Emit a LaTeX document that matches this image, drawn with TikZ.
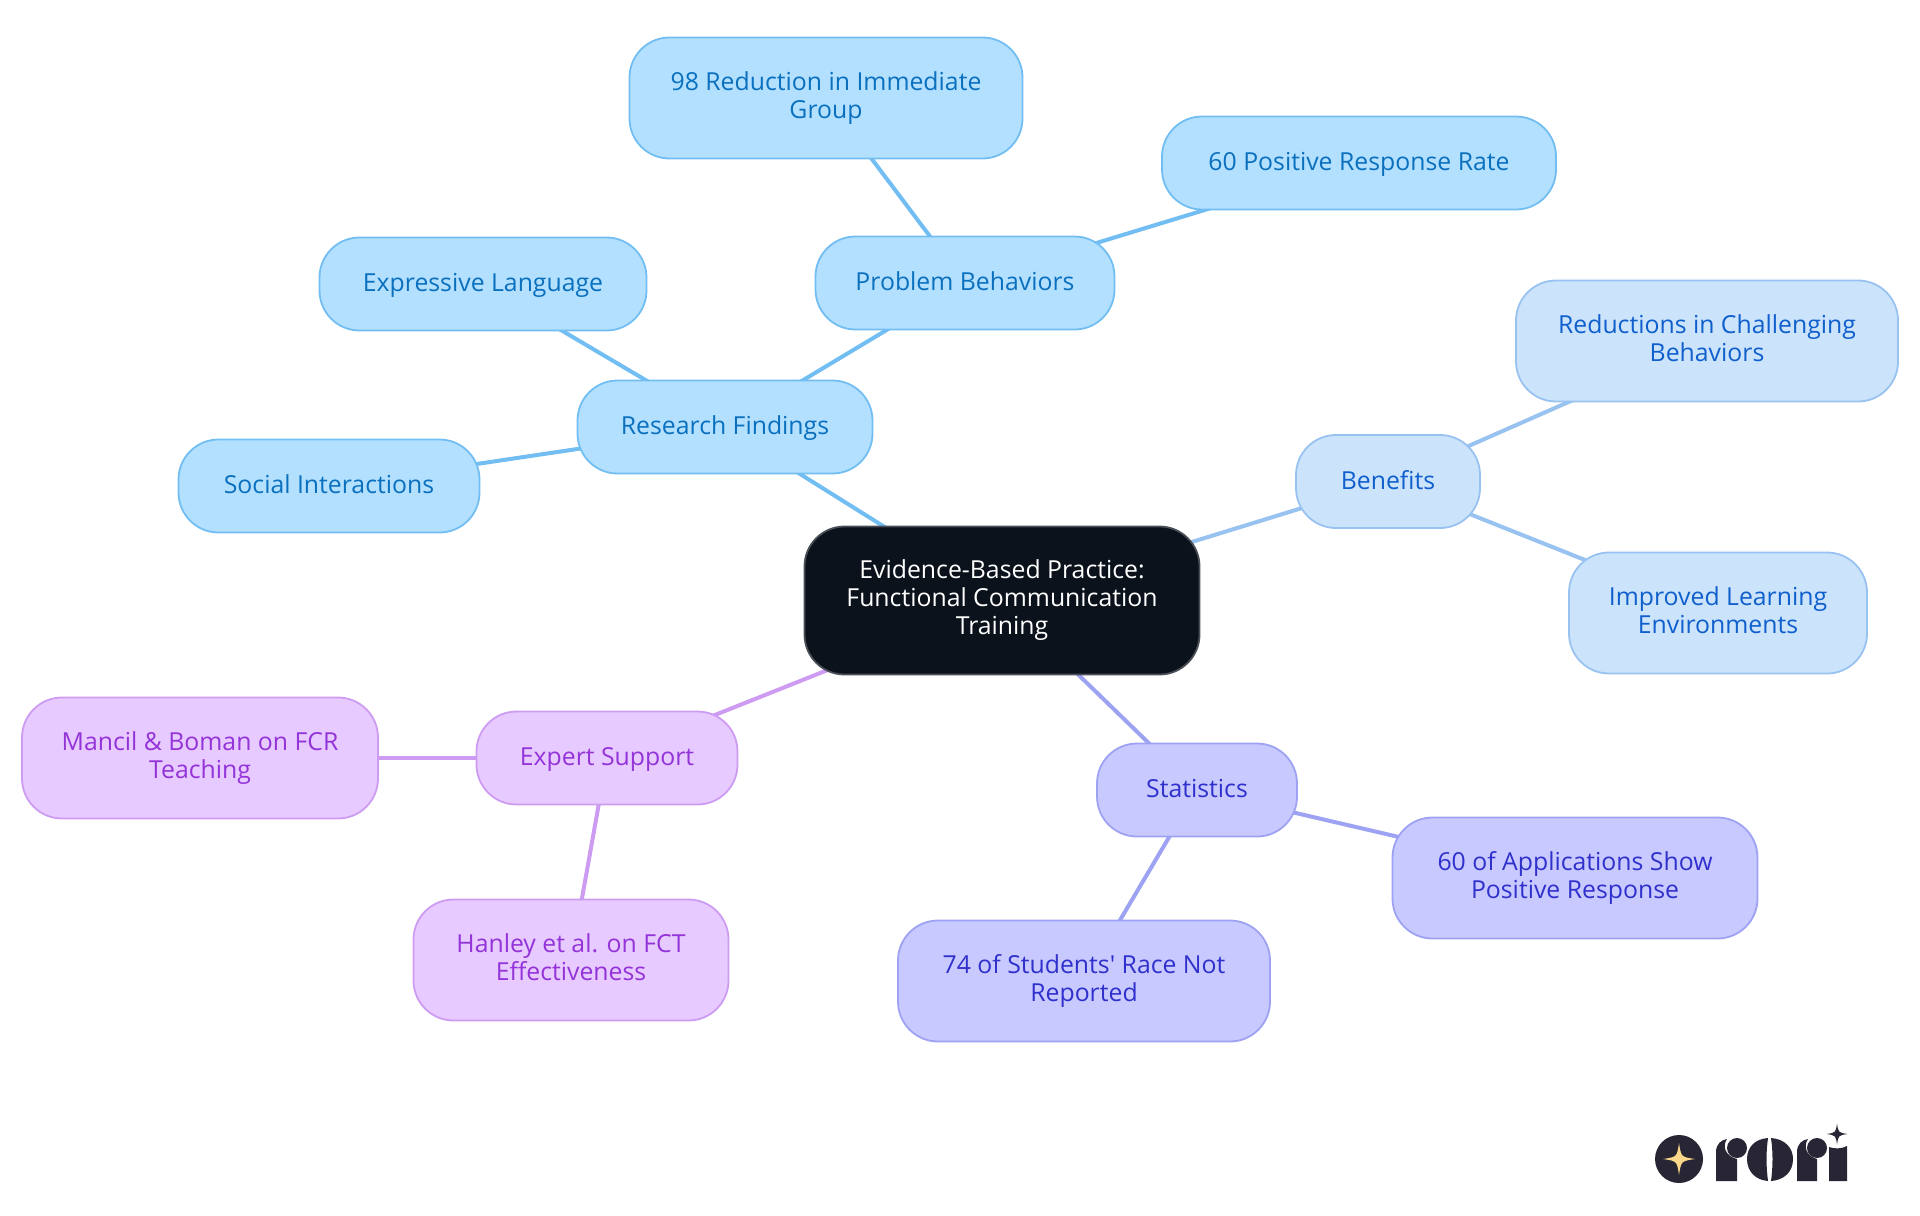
\documentclass[tikz,border=0pt]{standalone}
\usepackage{fontspec}
\setmainfont{Open Sans}[Ligatures=TeXOff]
\usetikzlibrary{backgrounds}
\definecolor{kernbg}{HTML}{0B121B}
\definecolor{kernrand}{HTML}{4A4F57}
\definecolor{blaubg}{HTML}{B3E0FF}
\definecolor{blaurand}{HTML}{72BEF2}
\definecolor{blautext}{HTML}{0A70BE}
\definecolor{hellbg}{HTML}{CCE3FC}
\definecolor{hellrand}{HTML}{98C2F0}
\definecolor{helltext}{HTML}{0F5FCC}
\definecolor{indigobg}{HTML}{C8CAFF}
\definecolor{indigorand}{HTML}{9EA2F2}
\definecolor{indigotext}{HTML}{3030CC}
\definecolor{lilabg}{HTML}{E7CAFF}
\definecolor{lilarand}{HTML}{CD9CF2}
\definecolor{lilatext}{HTML}{9333D8}
\definecolor{logodunkel}{HTML}{282635}
\definecolor{logostern}{HTML}{FBD78A}
\newcommand{\zeilenstrut}{\rule[-3.15pt]{0pt}{14pt}}
\tikzset{
  mapknoten/.style={rectangle,rounded corners=20pt,inner sep=0pt,line width=0.9pt,align=center,
    font=\fontsize{12.4}{14}\selectfont,minimum height=46.5pt,
    execute at begin node=\zeilenstrut,execute at end node=\zeilenstrut},
  kern/.style={mapknoten,fill=kernbg,draw=kernrand,text=white,minimum height=74pt,
    execute at begin node={\vspace*{1.2pt}\zeilenstrut}},
  research/.style={mapknoten,fill=blaubg,draw=blaurand,text=blautext},
  benefit/.style={mapknoten,fill=hellbg,draw=hellrand,text=helltext},
  statistik/.style={mapknoten,fill=indigobg,draw=indigorand,text=indigotext},
  experte/.style={mapknoten,fill=lilabg,draw=lilarand,text=lilatext},
  zweizeilig/.style={minimum height=60.5pt,execute at begin node={\vspace*{2.2pt}\zeilenstrut}},
  ast/.style={line width=2pt}
}
\newcommand{\stern}[4]{\fill[#4] (#1,#2-#3) .. controls (#1+0.13*#3,#2-0.13*#3) .. (#1+#3,#2)
  .. controls (#1+0.13*#3,#2+0.13*#3) .. (#1,#2+#3)
  .. controls (#1-0.13*#3,#2+0.13*#3) .. (#1-#3,#2)
  .. controls (#1-0.13*#3,#2-0.13*#3) .. cycle;}
\begin{document}
\begin{tikzpicture}[x=0.5pt,y=-0.5pt]
  \useasboundingbox (0,0) rectangle (1920,1215);

  \node[kern,minimum width=197.5pt] (kernthema) at (1002,600.5)
    {Evidence-Based Practice:\\Functional Communication\\Training};

  \node[research,minimum width=147.5pt] (findings) at (725,427) {Research Findings};
  \node[research,minimum width=149.5pt] (behaviors) at (965,283) {Problem Behaviors};
  \node[research,zweizeilig,minimum width=196.5pt] (reduction) at (826,98) {98 Reduction in Immediate\\Group};
  \node[research,minimum width=197pt] (response) at (1359,163) {60 Positive Response Rate};
  \node[research,minimum width=163.5pt] (language) at (483,284) {Expressive Language};
  \node[research,minimum width=150.5pt] (social) at (329,486) {Social Interactions};

  \node[benefit,minimum width=92pt] (benefits) at (1388,481.5) {Benefits};
  \node[benefit,zweizeilig,minimum width=191pt] (challenging) at (1707,341) {Reductions in Challenging\\Behaviors};
  \node[benefit,zweizeilig,minimum width=149pt] (learning) at (1718,613) {Improved Learning\\Environments};

  \node[statistik,minimum width=100pt] (statistics) at (1197,790) {Statistics};
  \node[statistik,zweizeilig,minimum width=182.5pt] (applications) at (1575,878) {60 of Applications Show\\Positive Response};
  \node[statistik,zweizeilig,minimum width=186pt] (race) at (1084,981) {74 of Students' Race Not\\Reported};

  \node[experte,minimum width=130.5pt] (expert) at (607,758) {Expert Support};
  \node[experte,zweizeilig,minimum width=178pt] (mancil) at (200,758) {Mancil \& Boman on FCR\\Teaching};
  \node[experte,zweizeilig,minimum width=157.5pt] (hanley) at (571,960) {Hanley et al. on FCT\\Effectiveness};

  \begin{scope}[on background layer]
    \draw[ast,draw=blaurand] (kernthema.center) -- (findings.center);
    \draw[ast,draw=blaurand] (findings.center) -- (behaviors.center);
    \draw[ast,draw=blaurand] (behaviors.center) -- (reduction.center);
    \draw[ast,draw=blaurand] (behaviors.center) -- (response.center);
    \draw[ast,draw=blaurand] (findings.center) -- (language.center);
    \draw[ast,draw=blaurand] (findings.center) -- (social.center);
    \draw[ast,draw=hellrand] (kernthema.center) -- (benefits.center);
    \draw[ast,draw=hellrand] (benefits.center) -- (challenging.center);
    \draw[ast,draw=hellrand] (benefits.center) -- (learning.center);
    \draw[ast,draw=indigorand] (kernthema.center) -- (statistics.center);
    \draw[ast,draw=indigorand] (statistics.center) -- (applications.center);
    \draw[ast,draw=indigorand] (statistics.center) -- (race.center);
    \draw[ast,draw=lilarand] (kernthema.center) -- (expert.center);
    \draw[ast,draw=lilarand] (expert.center) -- (mancil.center);
    \draw[ast,draw=lilarand] (expert.center) -- (hanley.center);
  \end{scope}

  %Logo
  \fill[logodunkel] (1679,1159) circle (24);
  \stern{1679}{1159}{16}{logostern}
  \fill[logodunkel] (1716,1181) -- (1716,1152) .. controls (1716,1144) and (1721,1140) .. (1727,1139)
    .. controls (1722,1146) and (1725,1156) .. (1737,1159) -- (1737,1181) -- cycle;
  \fill[logodunkel] (1737,1148) circle (10);
  \fill[logodunkel] (1768,1138) .. controls (1754,1139) and (1747,1148) .. (1747,1159)
    .. controls (1747,1172) and (1756,1180) .. (1768,1181) .. controls (1766,1166) and (1766,1152) .. cycle;
  \fill[logodunkel] (1771,1138) .. controls (1785,1139) and (1793,1148) .. (1793,1159)
    .. controls (1793,1172) and (1784,1180) .. (1771,1181) .. controls (1773,1166) and (1773,1152) .. cycle;
  \fill[logodunkel] (1797,1181) -- (1797,1152) .. controls (1797,1144) and (1802,1140) .. (1808,1139)
    .. controls (1803,1146) and (1806,1156) .. (1817,1159) -- (1817,1181) -- cycle;
  \fill[logodunkel] (1817,1148) circle (10);
  \fill[logodunkel] (1829,1181) -- (1829,1147) .. controls (1835,1149) and (1841,1149) .. (1847,1146) -- (1847,1181) -- cycle;
  \stern{1837}{1134}{10.5}{logodunkel}
\end{tikzpicture}
\end{document}
